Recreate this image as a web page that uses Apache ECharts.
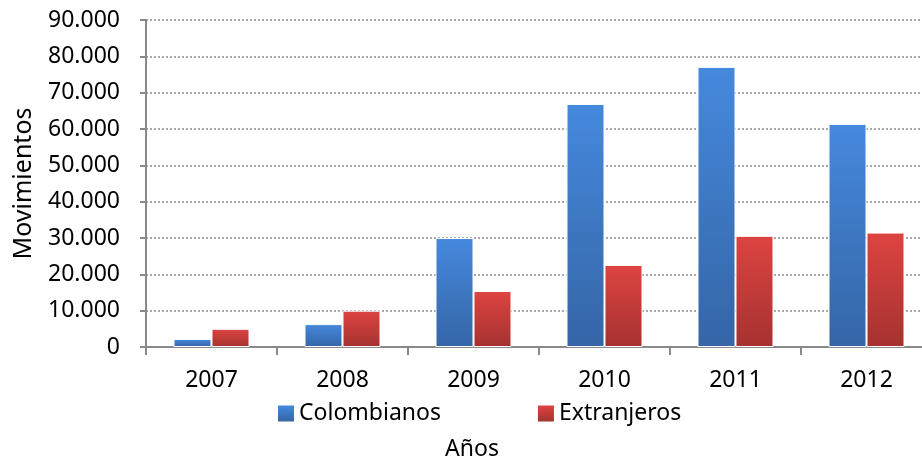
<!DOCTYPE html>
<html>
<head>
<meta charset="utf-8">
<script src="https://cdn.jsdelivr.net/npm/echarts@6/dist/echarts.min.js"></script>
<style>html,body{margin:0;padding:0;background:#fff}#c{width:922px;height:460px}</style>
</head>
<body>
<div id="c"></div>
<script>
const years = ['2007','2008','2009','2010','2011','2012'];
const colombianos = [2200, 6300, 30000, 66900, 77100, 61400];
const extranjeros = [5000, 10000, 15400, 22600, 30600, 31500];
const yTicks = [0, 10000, 20000, 30000, 40000, 50000, 60000, 70000, 80000, 90000];

const FONT = 'Noto Sans';
function grad(top, bottom) {
  return {type:'linear', x:0, y:0, x2:0, y2:1, colorStops:[{offset:0,color:top},{offset:1,color:bottom}]};
}
function fmt(v){ return v === 0 ? '0' : String(v).replace(/\B(?=(\d{3})+(?!\d))/g, '.'); }

const chart = echarts.init(document.getElementById('c'), null, {renderer:'canvas'});
chart.setOption({
  animation:false,
  backgroundColor:'#fff',
  grid:{left:146, top:20, width:786, height:327, containLabel:false, outerBoundsMode:'none'},
  legend:{
    left:273, top:397, itemWidth:16, itemHeight:16, itemGap:97, icon:'rect',
    textStyle:{fontFamily:FONT, fontSize:23, color:'#000'},
    data:[{name:'Colombianos', itemStyle:{color:grad('#4589dd','#3565a6'), borderWidth:0}},
          {name:'Extranjeros', itemStyle:{color:grad('#dd4441','#a53230'), borderWidth:0}}]
  },
  xAxis:{
    type:'category', data:years,
    name:'Años', nameLocation:'middle', nameGap:91,
    nameTextStyle:{fontFamily:FONT, fontSize:23, color:'#000', padding:[0,134,0,0]},
    axisLine:{lineStyle:{color:'#898989', width:2}},
    axisTick:{show:true, length:8, lineStyle:{color:'#898989', width:2}},
    axisLabel:{fontFamily:FONT, fontSize:23, color:'#000', margin:22}
  },
  yAxis:{
    type:'value', min:yTicks[0], max:yTicks[yTicks.length-1], interval:10000,
    name:'Movimientos', nameLocation:'middle', nameGap:110,
    nameTextStyle:{fontFamily:FONT, fontSize:25, color:'#000'},
    axisLine:{show:true, lineStyle:{color:'#898989', width:2}},
    axisTick:{show:true, length:6, lineStyle:{color:'#898989', width:2}},
    axisLabel:{fontFamily:FONT, fontSize:23, color:'#000', margin:26, formatter:fmt},
    splitLine:{show:true, lineStyle:{color:'#8c8c8c', width:1.5, type:[2,2]}}
  },
  series:[
    {name:'Colombianos', type:'bar', data:colombianos, barWidth:38, barGap:'0%',
     itemStyle:{color:grad('#4589dd','#3565a6'), borderColor:'#fff', borderWidth:1}},
    {name:'Extranjeros', type:'bar', data:extranjeros, barWidth:38, barGap:'0%',
     itemStyle:{color:grad('#dd4441','#a53230'), borderColor:'#fff', borderWidth:1}}
  ]
});
</script>
</body>
</html>
